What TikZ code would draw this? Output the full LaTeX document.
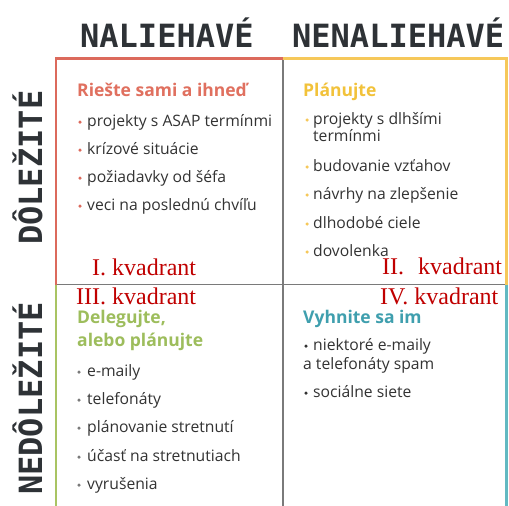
\documentclass[tikz,border=0pt]{standalone}
\usepackage{fontspec}
\setmainfont{Open Sans}
\newfontfamily\headfont{DejaVu Sans Mono}
\newfontfamily\kvfont{Liberation Serif}
\definecolor{hdrgray}{HTML}{2E3236}
\definecolor{txtgray}{HTML}{333333}
\definecolor{gridgray}{HTML}{7A7A7A}
\definecolor{qred}{HTML}{DC6A5C}
\definecolor{qredt}{HTML}{E0705F}
\definecolor{qyellow}{HTML}{F6C85A}
\definecolor{qyellowt}{HTML}{F2C23A}
\definecolor{qgreen}{HTML}{A9C463}
\definecolor{qgreent}{HTML}{9DBD5C}
\definecolor{qteal}{HTML}{62B9C2}
\definecolor{qtealt}{HTML}{3F9FAE}
\definecolor{kvred}{HTML}{C00000}
\begin{document}
\begin{tikzpicture}[x=1pt,y=-1pt,
  hdr/.style={anchor=base west, inner sep=0, font=\headfont\bfseries\fontsize{32}{32}\selectfont, text=hdrgray},
  side/.style={hdr, rotate=90},
  qtitle/.style={anchor=base west, inner sep=0, font=\bfseries\fontsize{17.5}{17.5}\selectfont},
  item/.style={anchor=base west, inner sep=0, font=\fontsize{15.7}{15.7}\selectfont, text=txtgray},
  kv/.style={anchor=base west, inner sep=0, font=\kvfont\fontsize{24}{24}\selectfont, text=kvred},
  dot/.style={circle, inner sep=0, minimum size=3.5pt},
  edge/.style={line width=2.5pt},
  grid/.style={line width=1.5pt, draw=gridgray}]
\useasboundingbox (0,0) rectangle (509,506);
\fill[white] (0,0) rectangle (509,506);
% grid
\draw[grid] (283,58) -- (283,506);
\draw[grid] (56,284.5) -- (506.5,284.5);
\draw[edge, qred] (56,284.5) -- (56,58.5) -- (283,58.5);
\draw[edge, qyellow] (283,58.5) -- (506.5,58.5) -- (506.5,284.5);
\draw[edge, qgreen] (56,284.5) -- (56,506);
\draw[edge, qteal] (506.5,284.5) -- (506.5,506);
% headers
\node[hdr] (h1) at (80,47) {NALIEHAVÉ};
\node[hdr] (h2) at (292,47) {NENALIEHAVÉ};
\node[side] (s1) at (42,245) {DÔLEŽITÉ};
\node[side] (s2) at (42,495) {NEDÔLEŽITÉ};
% quadrant I
\node[qtitle, text=qredt] (t1) at (77,96) {Riešte sami a ihneď};
\node[dot, fill=qred] (d11) at (80,122) {};
\node[item] (i11) at (87,126) {projekty s ASAP termínmi};
\node[dot, fill=qred] (d12) at (80,150) {};
\node[item] (i12) at (87,154) {krízové situácie};
\node[dot, fill=qred] (d13) at (80,178) {};
\node[item] (i13) at (87,182) {požiadavky od šéfa};
\node[dot, fill=qred] (d14) at (80,206) {};
\node[item] (i14) at (87,210) {veci na poslednú chvíľu};
\node[kv] (k1) at (92,275) {I. kvadrant};
% quadrant II
\node[qtitle, text=qyellowt] (t2) at (303,96) {Plánujte};
\node[dot, fill=qyellow] (d21) at (307,120) {};
\node[item] (i21) at (313,124) {projekty s dlhšími};
\node[item] (i21b) at (313,141) {termínmi};
\node[dot, fill=qyellow] (d22) at (307,167) {};
\node[item] (i22) at (313,171) {budovanie vzťahov};
\node[dot, fill=qyellow] (d23) at (307,195) {};
\node[item] (i23) at (313,199) {návrhy na zlepšenie};
\node[dot, fill=qyellow] (d24) at (307,224) {};
\node[item] (i24) at (313,228) {dlhodobé ciele};
\node[dot, fill=qyellow] (d25) at (307,252) {};
\node[item] (i25) at (313,256) {dovolenka};
\node[kv] (k2) at (382,274) {II.\hspace{14pt}kvadrant};
% quadrant III
\node[kv] (k3) at (76,304) {III. kvadrant};
\node[qtitle, text=qgreent] (t3) at (77,323) {Delegujte,};
\node[qtitle, text=qgreent] (t3b) at (77,346) {alebo plánujte};
\node[dot, fill=gridgray] (d31) at (79,372) {};
\node[item] (i31) at (87,376) {e-maily};
\node[dot, fill=gridgray] (d32) at (79,400) {};
\node[item] (i32) at (87,404) {telefonáty};
\node[dot, fill=gridgray] (d33) at (79,428) {};
\node[item] (i33) at (87,432) {plánovanie stretnutí};
\node[dot, fill=gridgray] (d34) at (79,457) {};
\node[item] (i34) at (87,461) {účasť na stretnutiach};
\node[dot, fill=gridgray] (d35) at (79,485) {};
\node[item] (i35) at (87,489) {vyrušenia};
% quadrant IV
\node[kv] (k4) at (380,304) {IV. kvadrant};
\node[qtitle, text=qtealt] (t4) at (303,323) {Vyhnite sa im};
\node[dot, fill=txtgray] (d41) at (306,346) {};
\node[item] (i41) at (313,350) {niektoré e-maily};
\node[item] (i41b) at (303,369) {a telefonáty spam};
\node[dot, fill=txtgray] (d42) at (306,393) {};
\node[item] (i42) at (313,397) {sociálne siete};
\end{tikzpicture}
\end{document}
